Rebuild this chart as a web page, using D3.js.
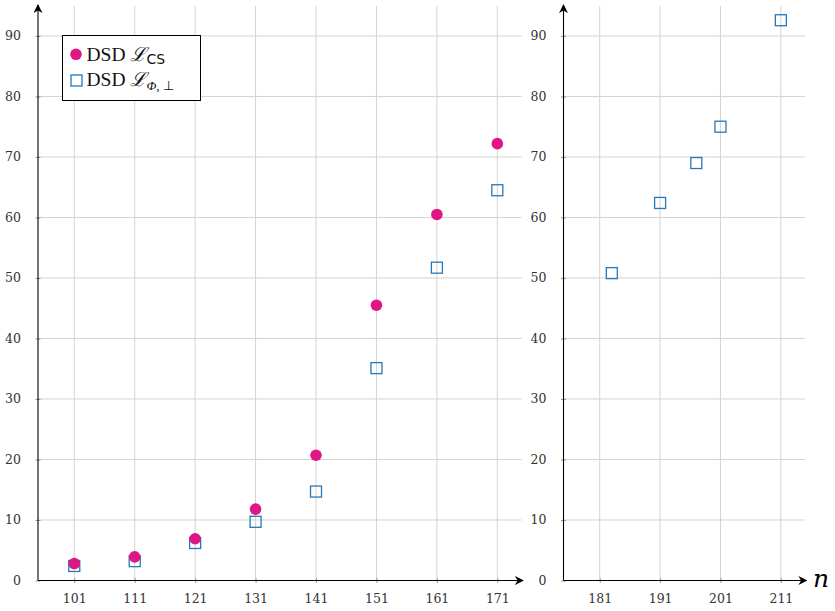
<!DOCTYPE html>
<html>
<head>
<meta charset="utf-8">
<script src="https://cdn.jsdelivr.net/npm/d3@7"></script>
<style>
  body { margin: 0; background: #fff; }
</style>
</head>
<body>
<svg id="chart" width="835" height="611"></svg>
<script>
  // data
  const csN = [101, 111, 121, 131, 141, 151, 161, 171];
  const csVal = [2.8, 3.9, 6.9, 11.8, 20.7, 45.5, 60.5, 72.2];
  const phiN = [101, 111, 121, 131, 141, 151, 161, 171, 183, 191, 197, 201, 211];
  const phiVal = [2.4, 3.2, 6.2, 9.7, 14.7, 35.1, 51.7, 64.5, 50.8, 62.4, 69.0, 75.0, 92.6];
  const leftTicks = [101, 111, 121, 131, 141, 151, 161, 171];
  const rightTicks = [181, 191, 201, 211];
  const yTicks = [0, 10, 20, 30, 40, 50, 60, 70, 80, 90];

  const pink = '#df1683';
  const blue = '#2678b8';
  const serif = '"DejaVu Serif", serif';

  const svg = d3.select('#chart');

  const y = d3.scaleLinear().domain([0, 95]).range([580.5, 5.7]);

  const panels = [
    { x: d3.scaleLinear().domain([95, 175]).range([38, 521.5]), ticks: leftTicks, lo: 95, hi: 175 },
    { x: d3.scaleLinear().domain([175, 215]).range([563.5, 805]), ticks: rightTicks, lo: 175, hi: 215 }
  ];

  // arrow marker
  svg.append('defs').append('marker')
    .attr('id', 'arrow')
    .attr('viewBox', '0 0 10 10')
    .attr('refX', 9).attr('refY', 5)
    .attr('markerWidth', 9).attr('markerHeight', 9)
    .attr('markerUnits', 'userSpaceOnUse')
    .attr('orient', 'auto')
    .append('path')
    .attr('d', 'M0,0 L10,5 L0,10 L3,5 Z')
    .attr('fill', '#000');

  panels.forEach(p => {
    const g = svg.append('g');
    const x0 = p.x(p.lo);
    const x1 = p.x(p.hi);

    // grid
    g.selectAll('line.vg').data(p.ticks).enter().append('line')
      .attr('x1', d => p.x(d)).attr('x2', d => p.x(d))
      .attr('y1', y(0)).attr('y2', 6)
      .attr('stroke', '#d3d3d3').attr('stroke-width', 1);
    g.selectAll('line.hg').data(yTicks.slice(1)).enter().append('line')
      .attr('x1', x0).attr('x2', x1)
      .attr('y1', d => y(d)).attr('y2', d => y(d))
      .attr('stroke', '#d3d3d3').attr('stroke-width', 1);

    // x ticks + labels
    const xa = d3.axisBottom(p.x).tickValues(p.ticks).tickSize(5).tickPadding(9).tickFormat(d3.format('d'));
    const gx = g.append('g').attr('transform', `translate(0,${y(0)})`).call(xa);
    gx.select('.domain').remove();
    gx.selectAll('.tick line').attr('stroke', '#999').attr('transform', 'translate(0,-2.5)');
    gx.selectAll('.tick text').style('font-size', '12.5px').attr('fill', '#333')
      .style('font-family', serif);

    // y ticks + labels
    const ya = d3.axisLeft(y).tickValues(yTicks).tickSize(5).tickPadding(12).tickFormat(d3.format('d'));
    const gy = g.append('g').attr('transform', `translate(${x0},0)`).call(ya);
    gy.select('.domain').remove();
    gy.selectAll('.tick line').attr('stroke', '#999').attr('transform', 'translate(2.5,0)');
    gy.selectAll('.tick text').style('font-size', '12.5px').attr('fill', '#333')
      .style('font-family', serif);

    // axis lines with arrows
    g.append('line')
      .attr('x1', x0).attr('x2', x0).attr('y1', y(0)).attr('y2', 5)
      .attr('stroke', '#000').attr('stroke-width', 1.1).attr('marker-end', 'url(#arrow)');
    g.append('line')
      .attr('x1', x0).attr('x2', x1 + 1.5).attr('y1', y(0)).attr('y2', y(0))
      .attr('stroke', '#000').attr('stroke-width', 1.1).attr('marker-end', 'url(#arrow)');

    // series: squares first, then circles on top
    const sq = phiN.map((n, i) => ({ n, v: phiVal[i] })).filter(d => d.n >= p.lo && d.n <= p.hi);
    g.selectAll('rect.phi').data(sq).enter().append('rect')
      .attr('x', d => p.x(d.n) - 5.5).attr('y', d => y(d.v) - 5.5)
      .attr('width', 11).attr('height', 11)
      .attr('fill', 'none').attr('stroke', blue).attr('stroke-width', 1.3);

    const cs = csN.map((n, i) => ({ n, v: csVal[i] })).filter(d => d.n >= p.lo && d.n <= p.hi);
    g.selectAll('circle.cs').data(cs).enter().append('circle')
      .attr('cx', d => p.x(d.n)).attr('cy', d => y(d.v))
      .attr('r', 5.8).attr('fill', pink);
  });

  // x axis label
  svg.append('text')
    .attr('x', 813).attr('y', 587)
    .style('font-size', '25px').style('font-style', 'italic')
    .style('font-family', serif)
    .text('n');

  // legend
  const lg = svg.append('g').attr('transform', 'translate(62.5,35.5)');
  lg.append('rect').attr('width', 138).attr('height', 65)
    .attr('fill', '#fff').attr('stroke', '#000').attr('stroke-width', 1);
  lg.append('circle').attr('cx', 13.5).attr('cy', 18.8).attr('r', 5.8).attr('fill', pink);
  lg.append('rect').attr('x', 8.5).attr('y', 39.5).attr('width', 11).attr('height', 11)
    .attr('fill', 'none').attr('stroke', blue).attr('stroke-width', 1.3);

  const lserif = '"Liberation Serif", serif';
  const t1 = lg.append('text').attr('x', 24).attr('y', 25)
    .style('font-size', '19.5px').style('font-family', lserif).attr('fill', '#111');
  t1.append('tspan').text('DSD ');
  t1.append('tspan').style('font-style', 'italic').text('ℒ');
  t1.append('tspan').attr('dy', 3).style('font-size', '14px')
    .style('font-family', '"DejaVu Sans", sans-serif').text('CS');

  const t2 = lg.append('text').attr('x', 24).attr('y', 50)
    .style('font-size', '19.5px').style('font-family', lserif).attr('fill', '#111');
  t2.append('tspan').text('DSD ');
  t2.append('tspan').style('font-style', 'italic').text('ℒ');
  t2.append('tspan').attr('dy', 4).style('font-size', '13px').style('font-style', 'italic').text('Φ');
  t2.append('tspan').style('font-size', '13px').text(', ⊥');
</script>
</body>
</html>
